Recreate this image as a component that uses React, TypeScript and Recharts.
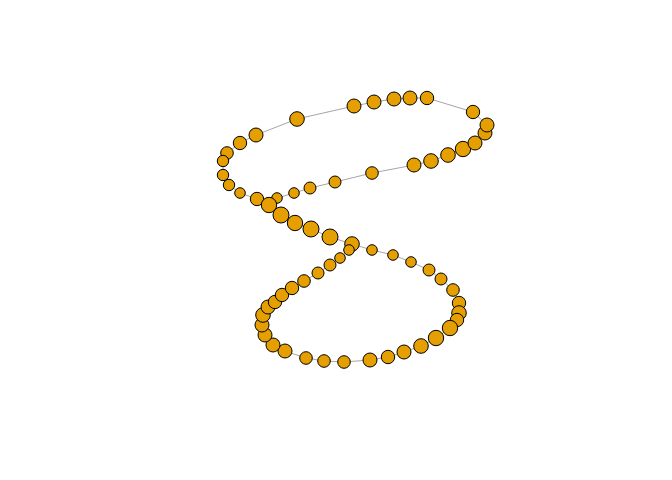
import { Scatter, ScatterChart, XAxis, YAxis } from 'recharts'

// point positions, in path order
const xs = [
  277, 294, 310, 335, 372, 414, 431, 448, 463, 475, 485, 487, 473, 427, 410,
  394, 374, 354, 297, 256, 240, 227, 223, 223, 229, 240, 257, 269, 281, 295,
  311, 330, 352, 372, 393, 411, 429, 441, 453, 459, 459, 457, 450, 436, 421,
  404, 388, 370, 344, 324, 306, 285, 273, 265, 262, 263, 268, 275, 282, 292,
  304, 318, 330, 340, 349,
]
const ys = [
  198, 193, 188, 182, 173, 165, 161, 155, 149, 143, 133, 125, 112, 98, 98,
  99, 102, 106, 119, 135, 143, 153, 161, 175, 185, 193, 199, 205, 215, 223,
  229, 237, 244, 250, 255, 262, 270, 279, 290, 303, 313, 320, 328, 338, 346,
  352, 357, 360, 362, 361, 358, 351, 345, 335, 325, 315, 307, 302, 295, 288,
  281, 273, 265, 258, 250,
]
const sizes = [
  5.3, 5.3, 6, 6, 6.3, 7, 7.3, 7.3, 7.7, 7, 7, 7, 6.7, 6.7, 7,
  7, 7, 7, 7.3, 7, 6.7, 6.3, 5.7, 5.7, 5.7, 5.3, 6.7, 7.7, 8, 7.7,
  8, 8, 7.3, 5.3, 5.3, 5.3, 6, 6, 6.3, 6.7, 7.3, 6.7, 7.7, 7.7, 7.3,
  7, 6.7, 7, 6.3, 6.3, 6.3, 7, 7, 7, 7, 7.3, 7, 6.7, 6.7, 6.7,
  6.3, 6, 6, 5.3, 5.3,
]

const data = xs.map((x, i) => ({ x, y: ys[i], r: sizes[i] }))

const Dot = (props: any) => (
  <circle
    cx={props.cx}
    cy={props.cy}
    r={props.payload.r}
    fill="#E69F00"
    stroke="#000"
    strokeWidth={1}
  />
)

export default function App() {
  return (
    <div style={{ position: 'absolute', left: 0, top: 0, background: '#fff' }}>
      <ScatterChart
        width={672}
        height={480}
        margin={{ top: 0, right: 0, bottom: 0, left: 0 }}
      >
        <XAxis type="number" dataKey="x" domain={[0, 672]} allowDataOverflow hide />
        <YAxis
          type="number"
          dataKey="y"
          domain={[0, 480]}
          reversed
          allowDataOverflow
          hide
          width={0}
        />
        <Scatter
          data={data}
          line={{ stroke: '#A6A6A6', strokeWidth: 1 }}
          shape={Dot}
          isAnimationActive={false}
        />
      </ScatterChart>
    </div>
  )
}
